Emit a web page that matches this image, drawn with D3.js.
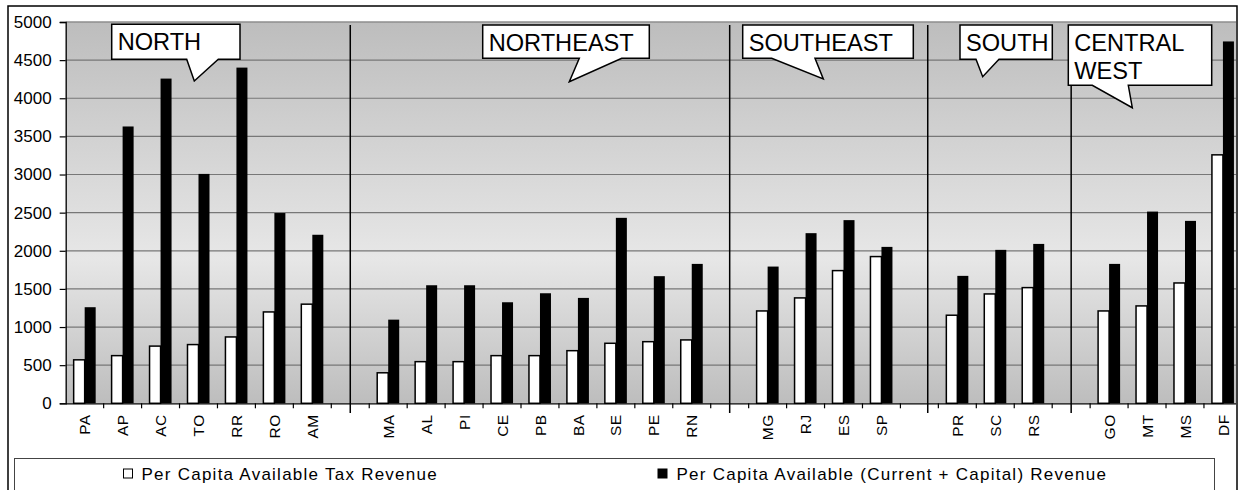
<!DOCTYPE html>
<html lang="en">
<head>
    <meta charset="UTF-8">
    <title>Per Capita Revenue by State</title>
    <script src="https://d3js.org/d3.v7.min.js"></script>
    <style>
        body { margin: 0; background: #fff; }
        text { font-family: "Liberation Sans", Arial, sans-serif; fill: #000; }
        .grid-line { stroke: #777; stroke-width: 1.2px; }
        .divider { stroke: #000; stroke-width: 1.5px; }
        .callout { fill: #fff; stroke: #000; stroke-width: 1.5px; }
    </style>
</head>
<body>
    <div id="chart"></div>

    <script>
        // data
        const regions = ["NORTH", "NORTHEAST", "SOUTHEAST", "SOUTH", "CENTRAL WEST"];
        const states = [
            ["PA", "AP", "AC", "TO", "RR", "RO", "AM"],
            ["MA", "AL", "PI", "CE", "PB", "BA", "SE", "PE", "RN"],
            ["MG", "RJ", "ES", "SP"],
            ["PR", "SC", "RS"],
            ["GO", "MT", "MS", "DF"]
        ];
        const taxRevenue = [
            [570, 625, 750, 770, 870, 1198, 1300],
            [400, 546, 546, 625, 625, 690, 787, 808, 831],
            [1211, 1382, 1740, 1924],
            [1155, 1434, 1517],
            [1211, 1277, 1578, 3258]
        ];
        const totalRevenue = [
            [1260, 3630, 4258, 3008, 4402, 2495, 2210],
            [1097, 1548, 1548, 1325, 1443, 1382, 2432, 1667, 1828],
            [1793, 2231, 2402, 2051],
            [1671, 2012, 2090],
            [1828, 2514, 2392, 4745]
        ];
        const yTicks = [0, 500, 1000, 1500, 2000, 2500, 3000, 3500, 4000, 4500, 5000];
        // region dividers, in category-slot units
        const dividers = [7.5, 17.5, 22.72, 26.5];
        const seriesNames = ["Per Capita Available Tax Revenue", "Per Capita Available (Current + Capital) Revenue"];

        const W = 1240, H = 490;
        const plot = { left: 65.7, right: 1241.9, top: 22, bottom: 403.3, clipRight: 1236 };

        // slots: states of each region followed by an empty gap slot
        const slots = [];
        const rows = [];
        states.forEach((list, r) => {
            list.forEach((s, i) => {
                slots.push(s);
                rows.push({ state: s, tax: taxRevenue[r][i], total: totalRevenue[r][i] });
            });
            if (r < states.length - 1) slots.push("gap" + r);
        });

        const svg = d3.select("#chart")
          .append("svg")
            .attr("width", W)
            .attr("height", H);

        const x = d3.scaleBand()
            .domain(slots)
            .range([plot.left, plot.right])
            .paddingInner(0).paddingOuter(0);
        const slotX = d3.scaleLinear()
            .domain([0, slots.length])
            .range([plot.left, plot.right]);
        const y = d3.scaleLinear()
            .domain([0, 5000])
            .range([plot.bottom, plot.top]);

        // background gradient
        const grad = svg.append("defs").append("linearGradient")
            .attr("id", "bg").attr("x1", 0).attr("y1", 0).attr("x2", 0).attr("y2", 1);
        grad.append("stop").attr("offset", "0%").attr("stop-color", "#bdbdbd");
        grad.append("stop").attr("offset", "62%").attr("stop-color", "#e7e7e7");
        grad.append("stop").attr("offset", "100%").attr("stop-color", "#bdbdbd");

        svg.append("rect")
            .attr("x", plot.left).attr("y", plot.top - 0.5)
            .attr("width", plot.clipRight - plot.left)
            .attr("height", plot.bottom - plot.top + 0.5)
            .attr("fill", "url(#bg)");

        // grid
        svg.selectAll(".grid-line")
            .data(yTicks.filter(d => d > 0))
            .enter()
            .append("line")
            .attr("class", "grid-line")
            .attr("x1", plot.left).attr("x2", plot.clipRight)
            .attr("y1", d => y(d)).attr("y2", d => y(d));

        // dividers between regions
        svg.selectAll(".divider")
            .data(dividers)
            .enter()
            .append("line")
            .attr("class", "divider")
            .attr("x1", d => slotX(d)).attr("x2", d => slotX(d))
            .attr("y1", 25).attr("y2", 413);

        // bars
        const barW = x.bandwidth() * 0.29;
        svg.selectAll(".bar-tax")
            .data(rows)
            .enter()
            .append("rect")
            .attr("x", d => x(d.state) + x.bandwidth() / 2 - barW)
            .attr("y", d => y(d.tax))
            .attr("width", barW)
            .attr("height", d => y(0) - y(d.tax))
            .attr("fill", "#fff")
            .attr("stroke", "#000")
            .attr("stroke-width", 1.5);

        svg.selectAll(".bar-total")
            .data(rows)
            .enter()
            .append("rect")
            .attr("x", d => x(d.state) + x.bandwidth() / 2)
            .attr("y", d => y(d.total))
            .attr("width", barW)
            .attr("height", d => y(0) - y(d.total))
            .attr("fill", "#000");

        // y axis
        const yAxis = svg.append("g")
            .attr("transform", `translate(${plot.left},0)`)
            .call(d3.axisLeft(y).tickValues(yTicks).tickFormat(d3.format("d")).tickSize(6).tickPadding(8));
        yAxis.select(".domain").attr("stroke", "#000").attr("stroke-width", 1.3);
        yAxis.selectAll(".tick line").attr("stroke", "#000").attr("stroke-width", 1.2);
        yAxis.selectAll(".tick text")
            .style("font-family", "'Liberation Sans', Arial, sans-serif")
            .style("font-size", "17px")
            .attr("fill", "#000");

        // x axis
        const xAxis = svg.append("g")
            .attr("transform", `translate(0,${plot.bottom})`)
            .call(d3.axisBottom(x).tickSize(0).tickFormat(d => d.startsWith("gap") ? "" : d));
        xAxis.select(".domain").attr("d", `M${plot.left},0.5H${plot.clipRight}`)
            .attr("stroke", "#000").attr("stroke-width", 1.3);
        xAxis.selectAll(".tick text")
            .style("font-family", "'Liberation Sans', Arial, sans-serif")
            .style("font-size", "15.5px")
            .style("letter-spacing", "0.5px")
            .attr("fill", "#000")
            .attr("transform", "rotate(-90)")
            .attr("text-anchor", "end")
            .attr("x", -11)
            .attr("y", 0)
            .attr("dy", "0.36em");
        xAxis.selectAll(".slot-tick")
            .data(d3.range(1, slots.length))
            .enter()
            .append("line")
            .attr("x1", d => slotX(d)).attr("x2", d => slotX(d))
            .attr("y1", 0).attr("y2", 5)
            .attr("stroke", "#000").attr("stroke-width", 1.2);

        // region callouts
        const callouts = [
            { box: [111.7, 24.3, 240, 59.3], base: [186.7, 218.3], tip: [194.3, 81] },
            { box: [482.7, 25, 649.3, 58.3], base: [579.3, 621.7], tip: [569.3, 81.7] },
            { box: [742.7, 25, 913.3, 58.3], base: [771.7, 815], tip: [823.3, 79] },
            { box: [960, 25, 1052.3, 59.3], base: [976, 999], tip: [982.7, 76.7] },
            { box: [1068.3, 25, 1211.7, 85.3], base: [1092.3, 1128.3], tip: [1132.3, 107.7] }
        ];
        callouts.forEach((c, i) => {
            const [x0, y0, x1, y1] = c.box;
            const [b0, b1] = c.base;
            const path = d3.path();
            path.moveTo(x0, y0);
            path.lineTo(x1, y0);
            path.lineTo(x1, y1);
            path.lineTo(b1, y1);
            path.lineTo(c.tip[0], c.tip[1]);
            path.lineTo(b0, y1);
            path.lineTo(x0, y1);
            path.closePath();
            svg.append("path").attr("class", "callout").attr("d", path.toString());

            const words = regions[i] === "CENTRAL WEST" ? ["CENTRAL", "WEST"] : [regions[i]];
            const t = svg.append("text")
                .attr("x", x0 + 6)
                .attr("y", y0 + 25.5)
                .style("font-size", "23.6px");
            words.forEach((w, k) => {
                t.append("tspan")
                    .attr("x", x0 + 6)
                    .attr("dy", k === 0 ? 0 : 28.5)
                    .text(w);
            });
        });

        // legend
        svg.append("rect")
            .attr("x", 14.5).attr("y", 458.5)
            .attr("width", 1200).attr("height", 60)
            .attr("fill", "#fff").attr("stroke", "#444").attr("stroke-width", 1);

        const legendItems = [
            { sx: 123.5, fill: "#fff", tx: 141.5 },
            { sx: 658, fill: "#000", tx: 676.5 }
        ];
        legendItems.forEach((l, i) => {
            svg.append("rect")
                .attr("x", l.sx).attr("y", 469)
                .attr("width", 9).attr("height", 9)
                .attr("fill", l.fill).attr("stroke", "#000").attr("stroke-width", 1);
            svg.append("text")
                .attr("x", l.tx).attr("y", 480)
                .style("font-size", "17px")
                .style("letter-spacing", "1.25px")
                .text(seriesNames[i]);
        });

        // outer frame
        svg.append("rect")
            .attr("x", 8).attr("y", 6)
            .attr("width", 1229).attr("height", 520)
            .attr("fill", "none").attr("stroke", "#000").attr("stroke-width", 1.5);
    </script>
</body>
</html>
